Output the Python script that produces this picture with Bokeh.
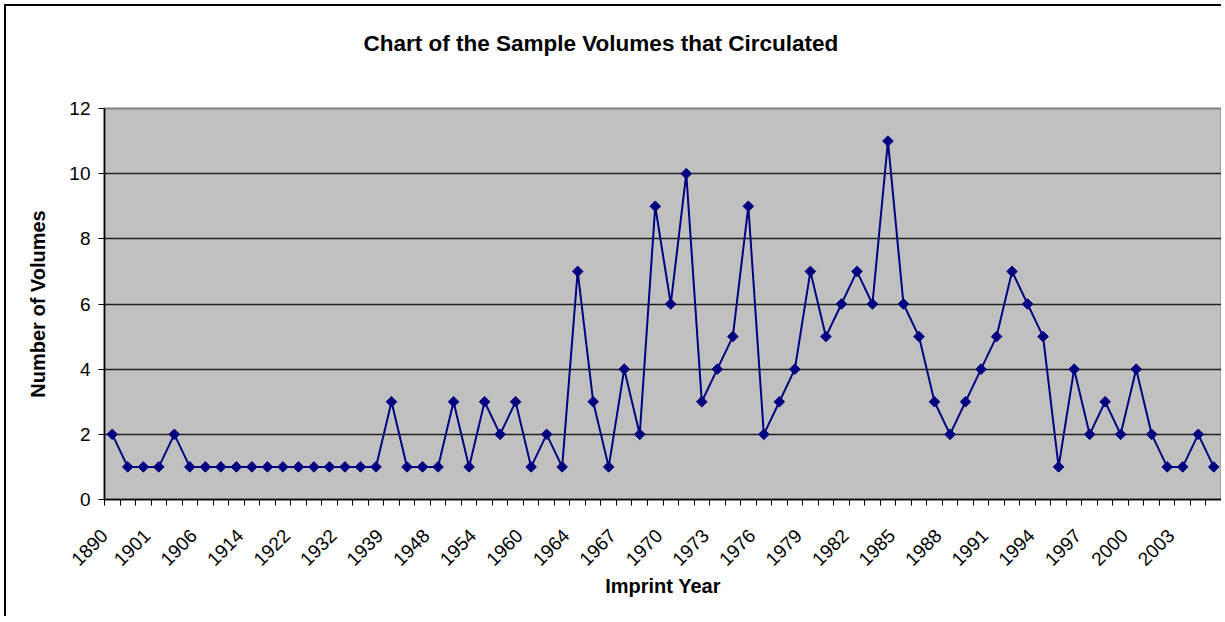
import math
from bokeh.plotting import figure
from bokeh.models import FixedTicker, Range1d
from bokeh.embed import file_html
from bokeh.resources import INLINE

years = [1890, 1896, 1899, 1901, 1903, 1904, 1906, 1909, 1911, 1914, 1916, 1920,
         1922, 1926, 1929, 1932, 1935, 1937, 1939, 1941, 1946, 1948, 1950, 1952,
         1954, 1956, 1958, 1960, 1961, 1963, 1964, 1965, 1966, 1967, 1968, 1969,
         1970, 1971, 1972, 1973, 1974, 1975, 1976, 1977, 1978, 1979, 1980, 1981,
         1982, 1983, 1984, 1985, 1986, 1987, 1988, 1989, 1990, 1991, 1992, 1993,
         1994, 1995, 1996, 1997, 1998, 1999, 2000, 2001, 2002, 2003, 2004, 2005]
volumes = [2, 1, 1, 1, 2, 1, 1, 1, 1, 1, 1, 1, 1, 1, 1, 1, 1, 1, 3, 1, 1, 1, 3, 1,
           3, 2, 3, 1, 2, 1, 7, 3, 1, 4, 2, 9, 6, 10, 3, 4, 5, 9, 2, 3, 4, 7, 5, 6,
           7, 6, 11, 6, 5, 3, 2, 3, 4, 5, 7, 6, 5, 1, 4, 2, 3, 2, 4, 2, 1, 1, 2, 1]
y_ticks = [0, 2, 4, 6, 8, 10, 12]
title_text = "Chart of the Sample Volumes that Circulated"
x_title = "Imprint Year"
y_title = "Number of Volumes"

FONT = "Liberation Sans"
n = len(years)
xs = list(range(n))
label_idx = xs[::3]
boundaries = [i - 0.5 for i in range(n + 1)]
# rotated labels end just left of their category (Excel style),
# kept inside the axis range for the first one
label_pos = [max(i - 0.75, -0.5) for i in label_idx]

p = figure(width=1217, height=612, output_backend="svg", toolbar_location=None,
           x_range=Range1d(-0.5, n - 0.5), y_range=Range1d(0, 12),
           min_border_left=98, min_border_right=2, min_border_top=100,
           min_border_bottom=119,
           background_fill_color="#C0C0C0", border_fill_color="white")
p.styles = {"margin-left": "4px", "margin-top": "4px",
            "border-left": "2px solid black", "border-top": "2px solid black"}
p.outline_line_color = "#808080"
p.outline_line_width = 2

# trailing empty line lifts the title higher above the plot area
p.title.text = title_text + "\n"
p.title.align = "left"
p.title.offset = 259
p.title.standoff = 45
p.title.text_line_height = 1.2
p.title.text_font = FONT
p.title.text_font_size = "22.5px"
p.title.text_font_style = "bold"
p.title.text_color = "black"

# x axis
xa = p.xaxis[0]
xa.ticker = FixedTicker(ticks=label_pos, minor_ticks=boundaries)
xa.major_label_overrides = {pos: str(years[i]) for pos, i in zip(label_pos, label_idx)}
xa.major_label_orientation = math.pi / 4
xa.major_tick_out = 0
xa.major_tick_in = 0
xa.minor_tick_out = 6
xa.minor_tick_in = 0
xa.minor_tick_line_color = "black"
xa.axis_line_color = "black"
xa.axis_line_width = 1.5
xa.major_label_text_font = FONT
xa.major_label_text_font_size = "19px"
xa.major_label_text_color = "black"
xa.major_label_standoff = 27
xa.axis_label = x_title
xa.axis_label_text_font = FONT
xa.axis_label_text_font_size = "20px"
xa.axis_label_text_font_style = "bold"
xa.axis_label_text_color = "black"
xa.axis_label_standoff = 0

# y axis
ya = p.yaxis[0]
ya.ticker = FixedTicker(ticks=y_ticks)
ya.minor_tick_out = 0
ya.minor_tick_in = 0
ya.major_tick_out = 6
ya.major_tick_in = 0
ya.major_tick_line_color = "black"
ya.axis_line_color = "black"
ya.axis_line_width = 1.5
ya.major_label_text_font = FONT
ya.major_label_text_font_size = "19px"
ya.major_label_text_color = "black"
ya.major_label_standoff = 8
ya.axis_label = y_title
ya.axis_label_text_font = FONT
ya.axis_label_text_font_size = "20px"
ya.axis_label_text_font_style = "bold"
ya.axis_label_text_color = "black"
ya.axis_label_standoff = 17

p.xgrid.visible = False
p.ygrid.ticker = FixedTicker(ticks=y_ticks)
p.ygrid.grid_line_color = "#202020"
p.ygrid.grid_line_width = 1.5

p.line(xs, volumes, line_color="#000080", line_width=2)
p.scatter(xs, volumes, marker="square", size=7.5, angle=math.pi / 4,
          fill_color="#000080", line_color="#000080")

open("out.html", "w").write(file_html(p, INLINE))
